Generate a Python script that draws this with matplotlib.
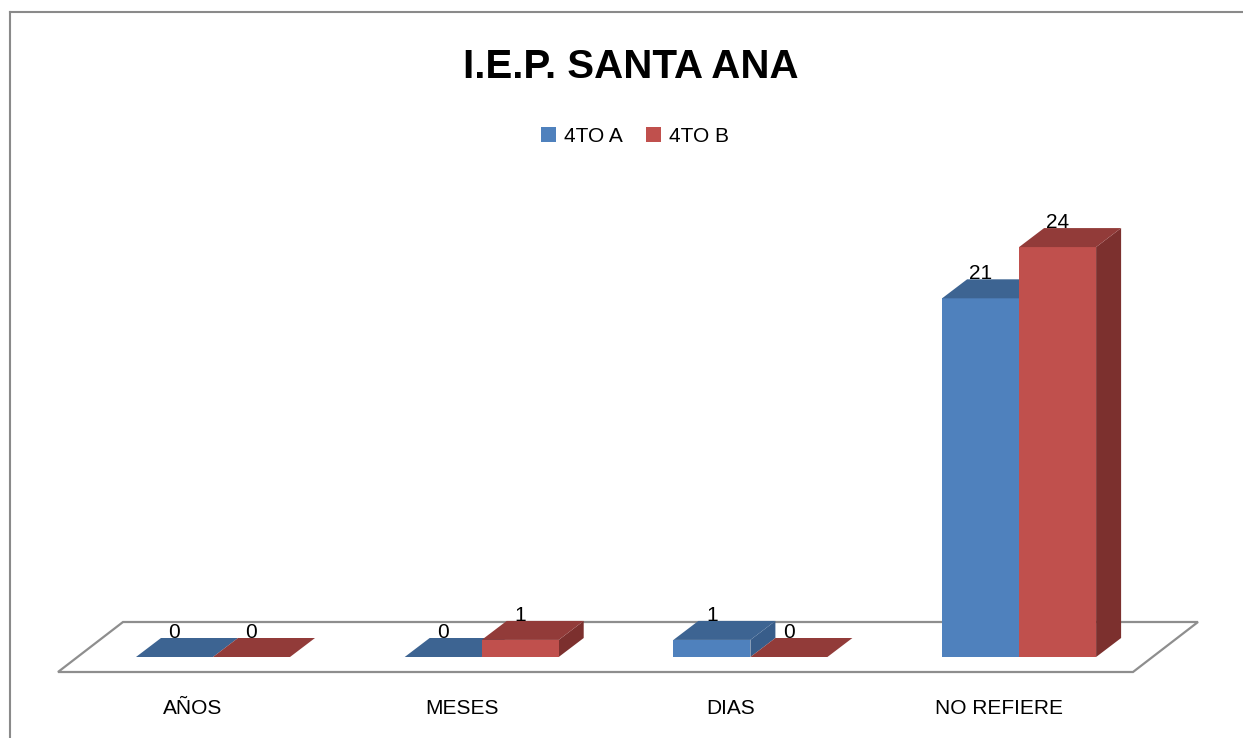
import matplotlib
matplotlib.use("Agg")
import matplotlib.pyplot as plt
from matplotlib.patches import Polygon, Patch
from matplotlib.lines import Line2D

categories = ["AÑOS", "MESES", "DIAS", "NO REFIERE"]
series_names = ["4TO A", "4TO B"]
values_a = [0, 0, 1, 21]
values_b = [0, 1, 0, 24]

# front / top / side shades of the two series
colors_a = ("#4F81BD", "#3D6492", "#385D8A")
colors_b = ("#C0504D", "#923B39", "#7C302E")

plt.rcParams['font.family'] = ['Liberation Sans', 'DejaVu Sans']

fig = plt.figure(figsize=(12.43, 7.38), dpi=100)
ax = fig.add_axes([0, 0, 1, 1])
ax.set_axis_off()

# one category step = 268.7 px, one unit = 17.08 px, zero line at pixel row 657
step_px, unit_px = 268.7, 17.08
ax.set_xlim(-213 / step_px, (1243 - 213) / step_px)
ax.set_ylim(-(738 - 657) / unit_px, 657 / unit_px)

bar_w = 77 / step_px
dx = 25 / step_px
dy = 19 / unit_px

# floor
fy0 = -15 / unit_px
fy1 = fy0 + 50 / unit_px
fx0, fx1 = -155 / step_px, 920 / step_px
fdx = 65 / step_px
ax.add_patch(Polygon([(fx0, fy0), (fx1, fy0), (fx1 + fdx, fy1), (fx0 + fdx, fy1)],
                     closed=True, facecolor="white", edgecolor="#8E8E8E", linewidth=1.6))


def draw_box(x0, h, cols):
    front, top, side = cols
    x1 = x0 + bar_w
    if h > 0:
        ax.add_patch(Polygon([(x1, 0), (x1 + dx, dy), (x1 + dx, h + dy), (x1, h)],
                             closed=True, facecolor=side, edgecolor="none"))
        ax.bar(x0, h, width=bar_w, align="edge", color=front, linewidth=0)
    ax.add_patch(Polygon([(x0, h), (x0 + dx, h + dy), (x1 + dx, h + dy), (x1, h)],
                         closed=True, facecolor=top, edgecolor="none"))
    ax.text(x0 + bar_w / 2, h + dy, str(h), ha="center", va="baseline", fontsize=15)


for i, cat in enumerate(categories):
    draw_box(i - bar_w, values_a[i], colors_a)
    draw_box(i, values_b[i], colors_b)
    ax.text(i - 20 / step_px, -57 / unit_px, cat, ha="center", va="baseline", fontsize=15)

# title and legend
fig.text(631 / 1243, 1 - 78 / 738, "I.E.P. SANTA ANA", ha="center", va="baseline",
         fontsize=29, fontweight="bold")
handles = [Patch(facecolor=colors_a[0]), Patch(facecolor=colors_b[0])]
fig.legend(handles, series_names, loc="center", bbox_to_anchor=(635 / 1243, 1 - 136 / 738),
           ncol=2, frameon=False, fontsize=15, handlelength=0.72, handleheight=0.72,
           handletextpad=0.35, columnspacing=1.15)

# chart area border (cut at right and bottom)
bx, by = 10 / 1243, 1 - 12 / 738
fig.add_artist(Line2D([bx, bx], [0, by], color="#8A8A8A", linewidth=1.5))
fig.add_artist(Line2D([bx, 1], [by, by], color="#8A8A8A", linewidth=1.5))

fig.savefig("out.png", dpi=100)
